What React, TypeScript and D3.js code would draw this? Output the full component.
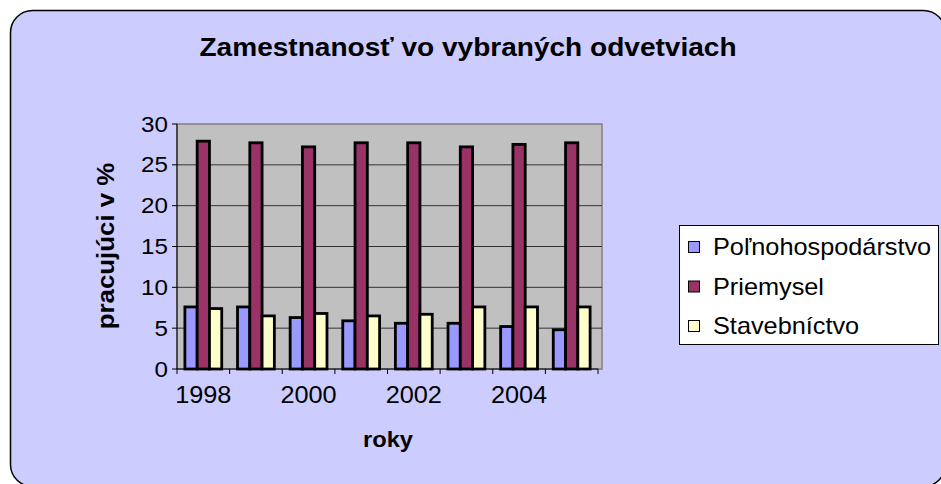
import * as d3 from "d3";

const years = ["1998", "1999", "2000", "2001", "2002", "2003", "2004", "2005"];
const seriesNames = ["Poľnohospodárstvo", "Priemysel", "Stavebníctvo"];
const agriculture = [7.6, 7.6, 6.3, 5.9, 5.6, 5.6, 5.2, 4.8];
const industry = [27.9, 27.7, 27.2, 27.7, 27.7, 27.2, 27.5, 27.7];
const construction = [7.4, 6.5, 6.8, 6.5, 6.7, 7.6, 7.6, 7.6];
const yTicks = [0, 5, 10, 15, 20, 25, 30];
const xTickLabels = ["1998", "2000", "2002", "2004"];

const colors = ["#9999FF", "#993366", "#FFFFCC"];
const seriesValues = [agriculture, industry, construction];

const W = 941;
const H = 484;
const plot = { left: 177, right: 602, axisRight: 598, top: 124, bottom: 369 };
const font = "'Liberation Sans', Arial, sans-serif";
// screen-hinted Arial runs a bit wider than Liberation Sans
const stretch = 1.1;

const Label = ({ x, y, size, anchor = "start", bold = false, rotate = 0, children }) => (
  <text
    transform={`translate(${x},${y}) rotate(${rotate}) scale(${stretch},1)`}
    fontSize={size}
    fontFamily={font}
    fontWeight={bold ? "bold" : "normal"}
    textAnchor={anchor}
    fill="#000"
  >
    {children}
  </text>
);

export default function App() {
  const x = d3
    .scaleBand()
    .domain(years)
    .range([plot.left, plot.axisRight])
    .paddingInner(0.3)
    .paddingOuter(0.15);
  const xs = d3.scaleBand().domain(seriesNames).range([0, x.bandwidth()]);
  const y = d3.scaleLinear().domain([0, 30]).range([plot.bottom, plot.top]);

  const boundaries = d3.range(years.length + 1).map((i) => plot.left + i * x.step());

  return (
    <svg
      width={W}
      height={H}
      style={{ position: "absolute", left: 0, top: 0 }}
    >
      <rect
        x={10.5}
        y={10.5}
        width={935}
        height={476}
        rx={22}
        fill="#CCCCFF"
        stroke="#000"
        strokeWidth={1.5}
      />

      <Label x={468} y={56} size={25.5} anchor="middle" bold>
        Zamestnanosť vo vybraných odvetviach
      </Label>

      {/* plot area */}
      <rect
        x={plot.left}
        y={plot.top}
        width={plot.right - plot.left}
        height={plot.bottom - plot.top}
        fill="#C0C0C0"
        stroke="#808080"
        strokeWidth={1.5}
      />
      {yTicks.slice(1, -1).map((t) => (
        <line
          key={t}
          x1={plot.left}
          x2={plot.right}
          y1={y(t)}
          y2={y(t)}
          stroke="#333"
          strokeWidth={1}
        />
      ))}

      {/* bars */}
      {years.map((yr, i) => (
        <g key={yr} transform={`translate(${x(yr)},0)`}>
          {seriesNames.map((s, j) => (
            <rect
              key={s}
              x={xs(s)}
              y={y(seriesValues[j][i])}
              width={xs.bandwidth()}
              height={y(0) - y(seriesValues[j][i])}
              fill={colors[j]}
              stroke="#000"
              strokeWidth={2.8}
            />
          ))}
        </g>
      ))}

      {/* axes */}
      <line x1={plot.left} x2={plot.left} y1={plot.top} y2={plot.bottom} stroke="#000" />
      <line x1={plot.left} x2={plot.axisRight} y1={plot.bottom} y2={plot.bottom} stroke="#000" />
      {yTicks.map((t) => (
        <g key={t}>
          <line x1={plot.left - 5} x2={plot.left} y1={y(t)} y2={y(t)} stroke="#000" />
          <Label x={168} y={y(t) + 7.5} size={22} anchor="end">
            {t}
          </Label>
        </g>
      ))}
      {boundaries.map((b, i) => (
        <line key={i} x1={b} x2={b} y1={plot.bottom} y2={plot.bottom + 5} stroke="#000" />
      ))}
      {xTickLabels.map((l) => (
        <Label key={l} x={x(l) + x.bandwidth() / 2} y={403} size={23} anchor="middle">
          {l}
        </Label>
      ))}

      <Label x={388} y={447} size={21.5} anchor="middle" bold>
        roky
      </Label>
      <Label x={114} y={246} size={23.5} anchor="middle" bold rotate={-90}>
        pracujúci v %
      </Label>

      {/* legend */}
      <rect x={679.5} y={225.5} width={259} height={119} fill="#fff" stroke="#000" strokeWidth={1} />
      {seriesNames.map((s, j) => {
        const cy = 247 + j * 39.5;
        return (
          <g key={s}>
            <rect x={688.5} y={cy - 5.5} width={11} height={11} fill={colors[j]} stroke="#000" />
            <Label x={713} y={cy + 8} size={23}>
              {s}
            </Label>
          </g>
        );
      })}
    </svg>
  );
}
